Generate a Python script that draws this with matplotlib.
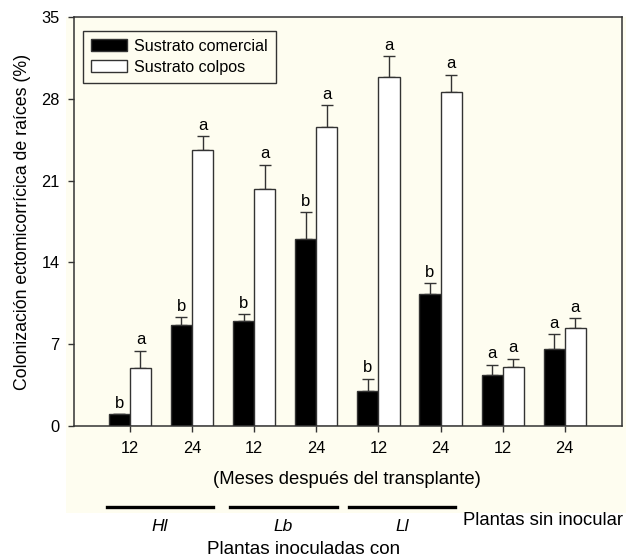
import matplotlib.pyplot as plt
import numpy as np
from matplotlib.patches import Rectangle
from matplotlib.lines import Line2D

plt.rcParams.update({
    "font.family": ["Liberation Sans", "DejaVu Sans"],
    "font.size": 11.5,
    "axes.linewidth": 1.1,
})

# --- Data ---
months = ["12", "24", "12", "24", "12", "24", "12", "24"]
comercial = [1.0, 8.6, 9.0, 16.0, 3.0, 11.3, 4.4, 6.6]
comercial_err = [0.0, 0.7, 0.55, 2.3, 1.05, 0.9, 0.85, 1.25]
comercial_let = ["b", "b", "b", "b", "b", "b", "a", "a"]
colpos = [4.95, 23.6, 20.3, 25.6, 29.9, 28.6, 5.05, 8.35]
colpos_err = [1.5, 1.2, 2.05, 1.85, 1.75, 1.45, 0.7, 0.85]
colpos_let = ["a", "a", "a", "a", "a", "a", "a", "a"]

inoculant_labels = ["Hl", "Lb", "Ll"]

CREAM = "#FEFDF0"
EDGE = "#333333"

fig = plt.figure(figsize=(6.28, 5.58), dpi=100)
fig.patches.append(Rectangle((0.105, 0.0806), 0.892, 0.889, transform=fig.transFigure,
                             facecolor=CREAM, edgecolor="none", zorder=-10))
ax = fig.add_axes([0.1178, 0.2366, 0.8726, 0.7329])
ax.set_facecolor(CREAM)

x = np.arange(len(months))
w = 0.34
ax.bar(x - w / 2, comercial, width=w, color="black", edgecolor=EDGE, linewidth=1.0,
       label="Sustrato comercial", zorder=2)
ax.bar(x + w / 2, colpos, width=w, color="white", edgecolor=EDGE, linewidth=1.0,
       label="Sustrato colpos", zorder=2)

for xs, vals, errs, lets in [(x - w / 2, comercial, comercial_err, comercial_let),
                             (x + w / 2, colpos, colpos_err, colpos_let)]:
    ax.errorbar(xs, vals, yerr=[np.zeros(len(errs)), errs], fmt="none",
                ecolor=EDGE, elinewidth=1.0, capsize=4.3, capthick=1.0, zorder=1)
    for xi, v, e, l in zip(xs, vals, errs, lets):
        ax.annotate(l, (xi, v + e), textcoords="offset points", xytext=(0, 2.5),
                    ha="center", va="bottom", fontsize=12)

ax.set_xlim(-0.9, 7.92)
ax.set_ylim(0, 35)
ax.set_yticks(np.arange(0, 36, 7))
ax.set_xticks(x)
ax.set_xticklabels(months)
ax.tick_params(axis="both", direction="out", length=4.5, width=1.0, color=EDGE, pad=6,
               labelsize=11.8)
for sp in ax.spines.values():
    sp.set_color(EDGE)

ax.set_ylabel("Colonización ectomicorrícica de raíces (%)", fontsize=12.8, labelpad=7)

trans = ax.get_xaxis_transform()
ax.text(3.5, -0.132, "(Meses después del transplante)", transform=trans,
        ha="center", va="center", fontsize=13.3)

# group lines and labels
spans = [(-0.37, 1.34), (1.61, 3.33), (3.53, 5.23)]
for (a, b), lab in zip(spans, inoculant_labels):
    ax.add_line(Line2D([a, b], [-0.198, -0.198], transform=trans, color="black",
                       linewidth=2.4, clip_on=False))
    ax.text((a + b) / 2, -0.247, lab, transform=trans, ha="center", va="center",
            fontsize=12.5, style="italic")
ax.text(5.36, -0.232, "Plantas sin inocular", transform=trans, ha="left", va="center",
        fontsize=13.3)
ax.text(2.79, -0.303, "Plantas inoculadas con", transform=trans, ha="center", va="center",
        fontsize=13.6)

leg = ax.legend(loc="upper left", bbox_to_anchor=(0.0164, 0.966), borderaxespad=0,
                frameon=True, fancybox=False, edgecolor=EDGE, facecolor=CREAM,
                framealpha=1, fontsize=11.6, handlelength=2.25, handleheight=0.75,
                handletextpad=0.4, borderpad=0.5, labelspacing=0.35)
leg.get_frame().set_linewidth(1.0)

fig.savefig("out.png", dpi=100)
